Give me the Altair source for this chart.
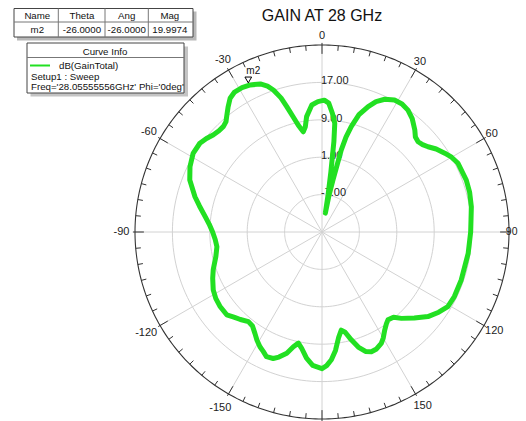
import altair as alt
import pandas as pd

# ---------------- data ----------------
theta_deg = [-180, -176, -173, -170, -168, -166, -163.8, -161, -158.9, -156, -153.9, -151.6,
             -149, -146.5, -143.5, -140.6, -137, -134, -131, -126, -122, -118, -113, -109,
             -103, -98, -94, -90, -86, -82.5, -78, -74.5, -68.5, -63.7, -58.6, -54, -51,
             -48.3, -45.5, -43, -41, -39.6, -37, -34.5, -32, -29, -26, -22.6, -20.5, -18.9,
             -17, -15.7, -14, -12.5, -10.6, -9, -7.6, -4.6, -1.8, 1, 3, 5, 6.7, 7.5, 8.4,
             9.3, 10, 10.8, 11.9, 13.2, 14.2, 15.5, 17.5, 20.2, 22.5, 25.3, 28.8, 32, 35.2,
             38.5, 42.3, 44.5, 46.8, 49, 51.2, 54, 57.3, 60, 63.2, 70.2, 75, 80.4, 85, 90,
             98.3, 109, 116, 120.7, 124.5, 128.6, 133, 137.4, 140, 143.1, 145, 147.4, 150,
             152, 155, 157.6, 160, 162.5, 164.8, 167, 168.9, 171, 173.5, 175.8, 178, 180]
gain_db = [14.2, 13.6, 12.2, 10.2, 9.3, 10.3, 12.0, 13.3, 14.0, 14.2, 13.5, 12.9,
           12.0, 11.0, 10.0, 9.8, 10.6, 11.2, 12.0, 12.0, 11.8, 11.35, 10.4, 9.6,
           8.3, 7.7, 7.9, 8.4, 9.2, 10.2, 11.8, 13.2, 15.4, 16.5, 17.3, 17.3, 16.8,
           16.2, 15.9, 15.9, 16.3, 17.0, 18.4, 19.7, 20.3, 20.3, 20.0, 19.3, 18.3, 17.1,
           15.0, 12.85, 10.3, 8.4, 6.8, 7.8, 9.9, 12.25, 12.9, 13.2, 12.6, 10.5, 8.4, 4.5, -2,
           -7, -10.9, -7, -3.6, 3.0, 6.0, 8.4, 11.3, 13.6, 15.2, 16.4, 17.2, 17.3, 16.9,
           16.0, 14.5, 13.5, 13.2, 13.5, 14.1, 15.2, 16.2, 17.0, 17.6, 17.8, 17.7, 17.4, 17.0, 16.8,
           16.6, 16.5, 16.5, 16.3, 15.3, 14.0, 12.0, 10.1, 8.8, 8.5, 9.0, 9.9, 11.2,
           12.0, 12.6, 12.7, 12.2, 10.8, 8.9, 7.0, 6.4, 7.8, 10.5, 12.4, 13.6, 14.2]

ring_levels = [-7, 1, 9, 17]
ring_texts = ["-7.00", "1.00", "9.00", "17.00"]
outer_level = 25
center_level = -15
spoke_angles = list(range(0, 360, 30))
tick_angles = list(range(-175, 185, 5))
angle_labels = [-150, -120, -90, -60, -30, 0, 30, 60, 90, 120, 150]

marker_name = "m2"
marker_theta = -26.0
marker_mag = 19.9974

table_header = ["Name", "Theta", "Ang", "Mag"]
table_row = ["m2", "-26.0000", "-26.0000", "19.9974"]
curve_name = "dB(GainTotal)"
curve_lines = ["Setup1 : Sweep", "Freq='28.05555556GHz' Phi='0deg'"]
title_text = "GAIN AT 28 GHz"

# ---------------- geometry ----------------
PX = 4.675          # pixels per dB
W, H = 510, 413
CX, CY = 314, 224   # centre of polar plot inside the plot area
RMAX = outer_level - center_level
XMAX = (W - CX) / PX
xs = alt.Scale(domain=[-CX / PX, XMAX], nice=False, zero=False)
ys = alt.Scale(domain=[-(H - CY) / PX, CY / PX], nice=False, zero=False)
FONT = "Liberation Sans"
GREEN = "#22e022"


def XY(xf, yf):
    return dict(x=alt.X(xf, type="quantitative", scale=xs, axis=None),
                y=alt.Y(yf, type="quantitative", scale=ys, axis=None))


def polar(r_expr, a_field="a"):
    return dict(px=f"({r_expr})*sin(datum.{a_field}*PI/180)",
                py=f"({r_expr})*cos(datum.{a_field}*PI/180)")


# rings
ring_rows = [{"level": L, "a": a} for L in ring_levels for a in range(0, 362, 2)]
rings = alt.Chart(pd.DataFrame(ring_rows)).transform_calculate(
    **polar(f"datum.level - ({center_level})")
).mark_line(color="#d2d2d2", strokeWidth=1).encode(
    **XY("px", "py"), detail="level:N", order="a:Q")

outer_rows = [{"level": outer_level, "a": a} for a in range(0, 362, 1)]
outer = alt.Chart(pd.DataFrame(outer_rows)).transform_calculate(
    **polar(f"datum.level - ({center_level})")
).mark_line(color="#333333", strokeWidth=1.1).encode(
    **XY("px", "py"), order="a:Q")

# spokes
spokes = alt.Chart(pd.DataFrame({"a": spoke_angles})).transform_calculate(
    x0="0", y0="0", **polar(str(RMAX))
).mark_rule(color="#d2d2d2", strokeWidth=1).encode(
    **XY("x0", "y0"), x2="px:Q", y2="py:Q")

# ticks on outer circle
ticks = alt.Chart(pd.DataFrame({"a": tick_angles})).transform_calculate(
    ro=f"datum.a % 30 == 0 ? {RMAX + 0.45} : {RMAX}",
    ri=f"datum.a % 30 == 0 ? {RMAX - 1.9} : {RMAX - 1.1}",
    x0="datum.ro*sin(datum.a*PI/180)", y0="datum.ro*cos(datum.a*PI/180)",
    x1="datum.ri*sin(datum.a*PI/180)", y1="datum.ri*cos(datum.a*PI/180)",
).mark_rule(color="#333333", strokeWidth=1).encode(
    **XY("x0", "y0"), x2="x1:Q", y2="y1:Q")

# angle labels
alab_base = alt.Chart(pd.DataFrame({"a": angle_labels, "lab": [str(v) for v in angle_labels]})).transform_calculate(
    rl="41.9 + 1.3*max(0, -cos(datum.a*PI/180)) + (datum.a < 0 ? abs(sin(datum.a*PI/180)) : 0)",
    px="datum.rl*sin(datum.a*PI/180)", py="datum.rl*cos(datum.a*PI/180)"
)
alab = alab_base.transform_filter("datum.a != 90").mark_text(
    font=FONT, fontSize=11, color="#222222", align="center", baseline="middle").encode(
    **XY("px", "py"), text="lab:N")
# the label at the right edge is kept inside the page
alab_r = alab_base.transform_filter("datum.a == 90").transform_calculate(
    pxr=f"{XMAX}"
).mark_text(font=FONT, fontSize=10.5, color="#222222", align="right", baseline="middle",
            dx=-0.5).encode(**XY("pxr", "py"), text="lab:N")

# ring labels
rlab = alt.Chart(pd.DataFrame({"level": ring_levels, "lab": ring_texts})).transform_calculate(
    px="0", py=f"datum.level - ({center_level})"
).mark_text(font=FONT, fontSize=11, color="#222222", align="left", baseline="alphabetic",
            dx=-1, dy=1.7).encode(**XY("px", "py"), text="lab:N")

# gain curve
curve_df = pd.DataFrame({"theta": theta_deg, "gain": gain_db, "order": range(len(theta_deg))})
curve = alt.Chart(curve_df).transform_calculate(
    **polar(f"datum.gain - ({center_level})", "theta")
).mark_line(color=GREEN, strokeWidth=5, strokeJoin="round", strokeCap="round").encode(
    **XY("px", "py"), order="order:Q")

# marker m2
mk_df = pd.DataFrame({"theta": [marker_theta], "gain": [marker_mag], "name": [marker_name]})
mk_base = alt.Chart(mk_df).transform_calculate(**polar(f"datum.gain - ({center_level})", "theta"))
mk_pt = mk_base.mark_point(shape="triangle-down", filled=False, color="black", strokeWidth=1,
                           size=45, opacity=1, xOffset=-2, yOffset=-5).encode(**XY("px", "py"))
mk_tx = mk_base.mark_text(font=FONT, fontSize=10, color="#111111", dx=3, dy=-13.5).encode(
    **XY("px", "py"), text="name:N")

# ---------------- decorations (page coords minus 8px margin) ----------------
dummy = pd.DataFrame({"k": [0]})
O = 8


def rect(x1, y1, x2, y2, fill, stroke=None):
    kw = dict(fill=fill)
    if stroke:
        kw.update(stroke=stroke, strokeWidth=1)
    return alt.Chart(dummy).mark_rect(**kw).encode(
        x=alt.value(x1 - O), x2=alt.value(x2 - O), y=alt.value(y1 - O), y2=alt.value(y2 - O))


def hline(x1, x2, y, color, width=1):
    return alt.Chart(dummy).mark_rule(color=color, strokeWidth=width).encode(
        x=alt.value(x1 - O), x2=alt.value(x2 - O), y=alt.value(y - O))


def vline(x, y1, y2, color):
    return alt.Chart(dummy).mark_rule(color=color, strokeWidth=1).encode(
        x=alt.value(x - O), y=alt.value(y1 - O), y2=alt.value(y2 - O))


def text(s, x, y, align="center", size=9.7, color="#111111"):
    return alt.Chart(dummy).mark_text(text=s, font=FONT, fontSize=size, color=color, align=align,
                                      baseline="alphabetic").encode(
        x=alt.value(x - O), y=alt.value(y - O))


deco = [
    rect(17, 11.5, 196.5, 40.5, "#b8b8b8"),
    rect(14, 8.5, 193, 37, "white", "#444444"),
    hline(14, 193, 22, "#777777"),
    vline(58.3, 8.5, 37, "#777777"),
    vline(105, 8.5, 37, "#777777"),
    vline(148.3, 8.5, 37, "#777777"),
    rect(30.5, 46.5, 188, 96.5, "#c4c4c4"),
    rect(27, 43, 184, 93, "white", "#444444"),
    hline(27, 184, 57.5, "#777777"),
    hline(30, 50, 65.5, GREEN, 2),
    text("Curve Info", 105, 54.6),
    text(curve_name, 59, 69.3, "left"),
    text(curve_lines[0], 31, 79.8, "left"),
    text(curve_lines[1], 31, 90.4, "left"),
    text(title_text, 322, 20.7, "center", 16, "#111111"),
]
col_x = [37.3, 81.9, 126.7, 169.8]
for s, cx in zip(table_header, col_x):
    deco.append(text(s, cx, 18.6))
for s, cx in zip(table_row, col_x):
    deco.append(text(s, cx, 33.3))

chart = alt.layer(
    rings, spokes, outer, ticks, alab, alab_r, rlab, curve, mk_pt, mk_tx, *deco
).properties(
    width=W, height=H, padding=0, autosize=alt.AutoSizeParams(type="none")
).configure_view(stroke=None)

chart.save("out.html", embed_options={"renderer": "svg", "actions": False})
